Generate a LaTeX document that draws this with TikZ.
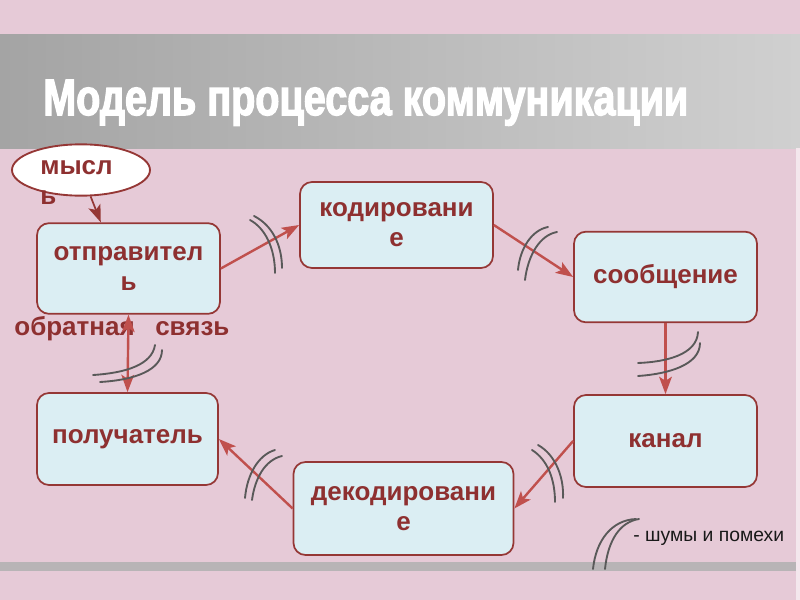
\documentclass[tikz,border=0pt]{standalone}
\usepackage{fontspec}
\setmainfont{Liberation Sans}
\newfontfamily\titlefont[FakeBold=3]{Liberation Sans}
\usetikzlibrary{positioning, calc, arrows.meta, shapes.geometric}

\definecolor{bgpink}{HTML}{E6CAD7}
\definecolor{bandleft}{HTML}{A4A4A4}
\definecolor{bandright}{HTML}{D0D0D0}
\definecolor{bargray}{HTML}{B8B4B6}
\definecolor{boxfill}{HTML}{DBEEF3}
\definecolor{boxdraw}{HTML}{953735}
\definecolor{textred}{HTML}{8E3030}
\definecolor{arrowred}{HTML}{C0504D}
\definecolor{noisegray}{HTML}{595959}

\begin{document}
\begin{tikzpicture}[x=0.75pt, y=-0.75pt,
    stage/.style={draw=boxdraw, line width=1.3pt, fill=boxfill, rounded corners=9pt,
        minimum width=137.25pt, minimum height=68pt, inner sep=0pt, align=center,
        text=textred, font=\bfseries\fontsize{19.5}{22.5}\selectfont},
    thought/.style={ellipse, draw=boxdraw, line width=1.4pt, fill=white,
        minimum width=103.5pt, minimum height=38.5pt, inner sep=0pt},
    redtext/.style={text=textred, inner sep=0pt, font=\bfseries\fontsize{19.5}{22.5}\selectfont},
    flow/.style={draw=arrowred, line width=1.8pt, -{Stealth[length=13pt, width=9.5pt, inset=3pt]}},
    noise/.style={draw=noisegray, line width=1.4pt, line cap=round}]

    % background and bands
    \fill[bgpink] (0,0) rectangle (800,600);
    \shade[left color=bandleft, right color=bandright] (0,34) rectangle (800,148);
    \fill[bargray] (0,562) rectangle (796,571);
    \fill[white!55!bgpink] (796,148) rectangle (800,600);

    \node[inner sep=0pt, anchor=base west, text=white] (title) at (43,115)
        {\resizebox{483.75pt}{26.25pt}{\titlefont\bfseries Модель процесса коммуникации}};

    \node[thought] (mysl) at (81,170) {};
    \node[redtext, align=left, anchor=north west] (myslText) at (40,160) {мысл\\ь};

    \node[stage] (sender) at (128.5,268.5) {отправител\\ь};
    \node[stage, minimum width=144.75pt, minimum height=64.5pt] (coding) at (396.5,225) {кодировани\\е};
    \node[stage] (message) at (665.5,277) {сообщение};
    \node[stage, minimum height=69pt] (channel) at (665.5,441) {канал};
    \node[stage, minimum width=135.75pt, minimum height=69pt] (receiver) at (127.5,439) {получатель};
    \node[stage, minimum width=165pt, minimum height=69.75pt] (decoding) at (403.5,508.5) {декодировани\\е};

    \node[redtext, anchor=base east] (fbLeft) at (135,335) {обратная};
    \node[redtext, anchor=base west] (fbRight) at (155,335) {связь};
    \node[inner sep=0pt, anchor=west, text=black!90, font=\fontsize{14.5}{17}\selectfont] (legend) at (633,538) {- шумы и помехи};

    \draw[flow, draw=boxdraw, line width=1.3pt] (mysl.-70) -- ($(sender.north west)!0.35!(sender.north east)$);
    \draw[flow] (sender.east) -- (coding.west);
    \draw[flow] (coding.east) -- (message.west);
    \draw[flow] (message.south) -- (channel.north);
    \draw[flow] (channel.west) -- (decoding.east);
    \draw[flow] (decoding.west) -- (receiver.east);
    \draw[flow, {Stealth[length=13pt, width=9.5pt, inset=3pt]}-{Stealth[length=13pt, width=9.5pt, inset=3pt]}] (sender.south) -- (receiver.north);

    % noise marks
    \draw[noise] (250,220) .. controls (265,228) and (275,248) .. (275,273);
    \draw[noise] (254,216) .. controls (272,225) and (282,245) .. (282,268);
    \draw[noise] (518,270) .. controls (520,248) and (532,230) .. (548,227);
    \draw[noise] (525,280) .. controls (528,255) and (540,235) .. (557,232);
    \draw[noise] (638,363) .. controls (665,362) and (697,355) .. (698,332);
    \draw[noise] (638,376) .. controls (668,374) and (700,365) .. (700,343);
    \draw[noise] (532,450) .. controls (548,460) and (555,480) .. (555,502);
    \draw[noise] (538,445) .. controls (556,455) and (564,478) .. (563,498);
    \draw[noise] (245,498) .. controls (247,475) and (258,455) .. (275,450);
    \draw[noise] (252,500) .. controls (255,478) and (265,460) .. (282,456);
    \draw[noise] (93,375) .. controls (125,373) and (152,365) .. (155,345);
    \draw[noise] (100,382) .. controls (135,380) and (162,370) .. (162,350);
    \draw[noise] (593,569) .. controls (596,540) and (612,520) .. (636,519);
    \draw[noise] (605,569) .. controls (608,540) and (620,522) .. (639,519);
\end{tikzpicture}
\end{document}
